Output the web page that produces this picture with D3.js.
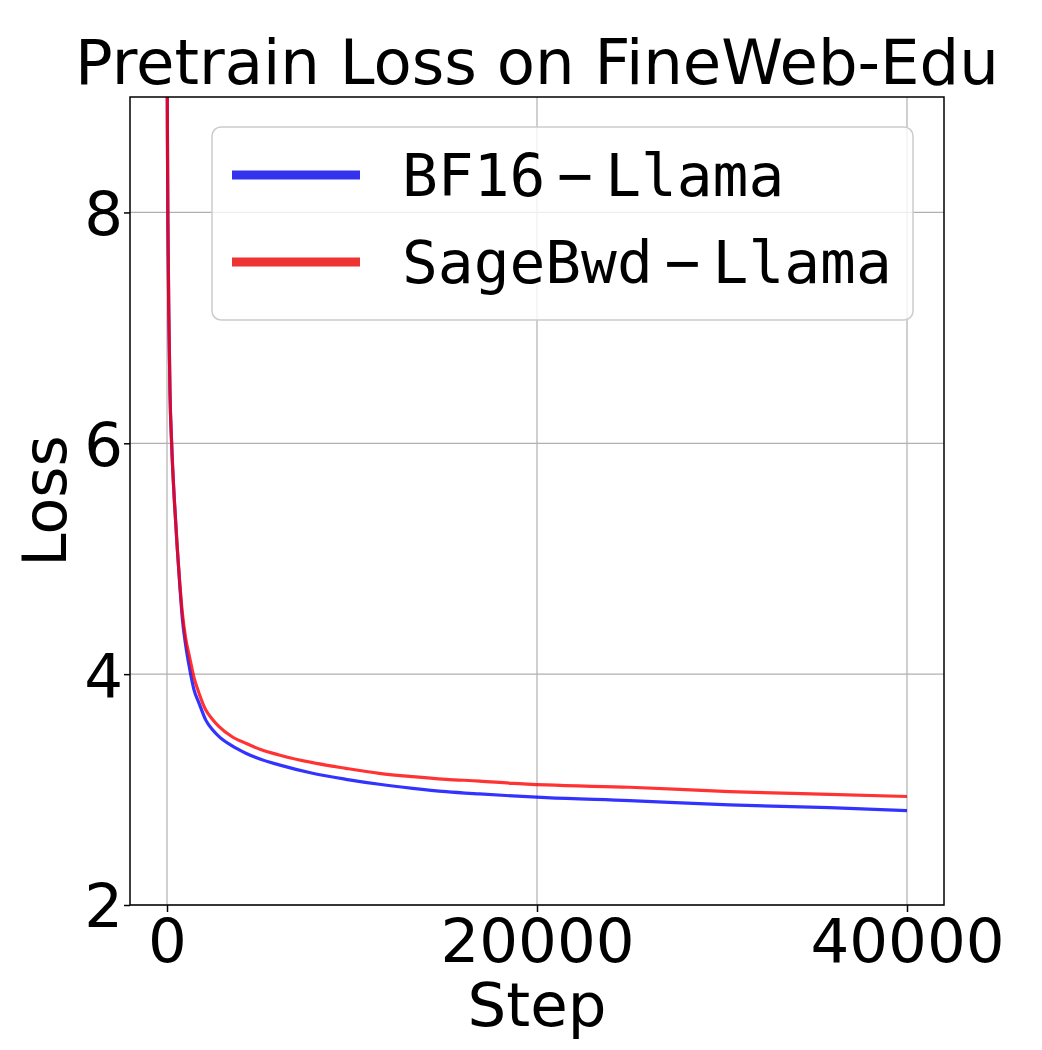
<!DOCTYPE html>
<html>
<head>
<meta charset="utf-8">
<script src="https://cdn.jsdelivr.net/npm/d3@7"></script>
<style>
  html, body { margin: 0; padding: 0; background: #fff; }
  svg { display: block; }
</style>
</head>
<body>
<svg id="chart" width="1042" height="1050"></svg>
<script>
// ---- data ----
const titleText = "Pretrain Loss on FineWeb-Edu";
const xLabel = "Step";
const yLabel = "Loss";
const xTicks = [0, 20000, 40000];
const yTicks = [2, 4, 6, 8];
const seriesNames = ["BF16", "SageBwd"];
const seriesSuffix = "Llama";

const steps = [0, 10, 25, 50, 100, 160, 250, 400, 560, 700, 830, 1000, 1230, 1460, 1730, 2090, 2450, 2815, 3500, 4260, 5100, 6060, 7870, 9670, 11475, 13280, 15085, 16890, 18690, 20500, 25000, 30400, 35800, 40000];
const bf16Loss = [10.8, 9.3, 8.6, 7.9, 7.1, 6.45, 6.0, 5.5, 5.08, 4.75, 4.48, 4.26, 4.04, 3.864, 3.749, 3.604, 3.52, 3.459, 3.38, 3.315, 3.26, 3.214, 3.141, 3.089, 3.046, 3.011, 2.982, 2.962, 2.945, 2.930, 2.905, 2.867, 2.844, 2.818];
const sageLoss = [10.8, 9.3, 8.6, 7.9, 7.1, 6.45, 6.0, 5.5, 5.08, 4.77, 4.53, 4.32, 4.14, 3.97, 3.835, 3.691, 3.61, 3.546, 3.46, 3.401, 3.345, 3.30, 3.233, 3.184, 3.141, 3.112, 3.089, 3.074, 3.054, 3.040, 3.020, 2.982, 2.959, 2.940];

// ---- layout ----
const svg = d3.select("#chart");
const plot = { left: 130, right: 944, top: 97, bottom: 905 };
const colors = ["#0000ff", "#ff0000"];
const legendColors = ["#3333ee", "#ee3333"];

const x = d3.scaleLinear().domain([-2000, 42000]).range([plot.left, plot.right]);
const y = d3.scaleLinear().domain([2, 9]).range([plot.bottom, plot.top]);

svg.append("defs").append("clipPath").attr("id", "clip")
  .append("rect").attr("x", plot.left).attr("y", plot.top)
  .attr("width", plot.right - plot.left).attr("height", plot.bottom - plot.top);

// grid
const grid = svg.append("g");
grid.selectAll(".gx").data(xTicks).join("line")
  .attr("x1", d => x(d)).attr("x2", d => x(d))
  .attr("y1", plot.top).attr("y2", plot.bottom)
  .attr("stroke", "#b0b0b0").attr("stroke-width", 1.2);
grid.selectAll(".gy").data(yTicks).join("line")
  .attr("y1", d => y(d)).attr("y2", d => y(d))
  .attr("x1", plot.left).attr("x2", plot.right)
  .attr("stroke", "#b0b0b0").attr("stroke-width", 1.2);

// lines
const line = d3.line().x((d, i) => x(steps[i])).y(d => y(d)).curve(d3.curveMonotoneX);
const lines = svg.append("g").attr("clip-path", "url(#clip)");
[bf16Loss, sageLoss].forEach((vals, k) => {
  lines.append("path").datum(vals)
    .attr("d", line)
    .attr("fill", "none")
    .attr("stroke", colors[k])
    .attr("stroke-opacity", 0.8)
    .attr("stroke-width", 3.2)
    .attr("stroke-linejoin", "round");
});

// axes
const fontMain = "'DejaVu Sans', sans-serif";
const xAxis = d3.axisBottom(x).tickValues(xTicks).tickFormat(d3.format("d")).tickSizeOuter(0).tickSize(7).tickPadding(6);
const yAxis = d3.axisLeft(y).tickValues(yTicks).tickFormat(d3.format("d")).tickSizeOuter(0).tickSize(6).tickPadding(1);

const gx = svg.append("g").attr("transform", `translate(0,${plot.bottom})`).call(xAxis);
const gy = svg.append("g").attr("transform", `translate(${plot.left},0)`).call(yAxis);
[gx, gy].forEach(g => {
  g.select(".domain").remove();
  g.selectAll(".tick line").attr("stroke", "#000").attr("stroke-width", 1.5);
  g.selectAll(".tick text").attr("fill", "#000").style("font-family", fontMain).style("font-size", "61px");
});
gx.selectAll(".tick text").attr("dy", null).attr("y", 57);
gy.selectAll(".tick text").attr("dy", "0.36em");

// spines
svg.append("rect")
  .attr("x", plot.left).attr("y", plot.top)
  .attr("width", plot.right - plot.left).attr("height", plot.bottom - plot.top)
  .attr("fill", "none").attr("stroke", "#000").attr("stroke-width", 1.5);

// labels
svg.append("text").attr("x", (plot.left + plot.right) / 2).attr("y", 84)
  .attr("text-anchor", "middle").style("font-family", fontMain).style("font-size", "62.5px")
  .text(titleText);
svg.append("text").attr("x", (plot.left + plot.right) / 2).attr("y", 1026)
  .attr("text-anchor", "middle").style("font-family", fontMain).style("font-size", "61px")
  .text(xLabel);
svg.append("text").attr("transform", `translate(66,${(plot.top + plot.bottom) / 2}) rotate(-90)`)
  .attr("text-anchor", "middle").style("font-family", fontMain).style("font-size", "60px")
  .text(yLabel);

// legend
const lg = svg.append("g");
lg.append("rect").attr("x", 212).attr("y", 127).attr("width", 701).attr("height", 193)
  .attr("rx", 9).attr("fill", "#fff").attr("fill-opacity", 0.8)
  .attr("stroke", "#cccccc").attr("stroke-width", 1.5);
seriesNames.forEach((name, k) => {
  const cy = 175 + k * 87;
  lg.append("line").attr("x1", 232).attr("x2", 360).attr("y1", cy).attr("y2", cy)
    .attr("stroke", legendColors[k]).attr("stroke-width", 9);
  const t = lg.append("text").attr("x", 402).attr("y", cy + 21)
    .style("font-family", "'DejaVu Sans Mono', monospace").style("font-size", "59.5px").attr("fill", "#000");
  t.append("tspan").text(name);
  t.append("tspan").attr("dx", 12).text("\u2212");
  t.append("tspan").attr("dx", 12).text(seriesSuffix);
});
</script>
</body>
</html>
